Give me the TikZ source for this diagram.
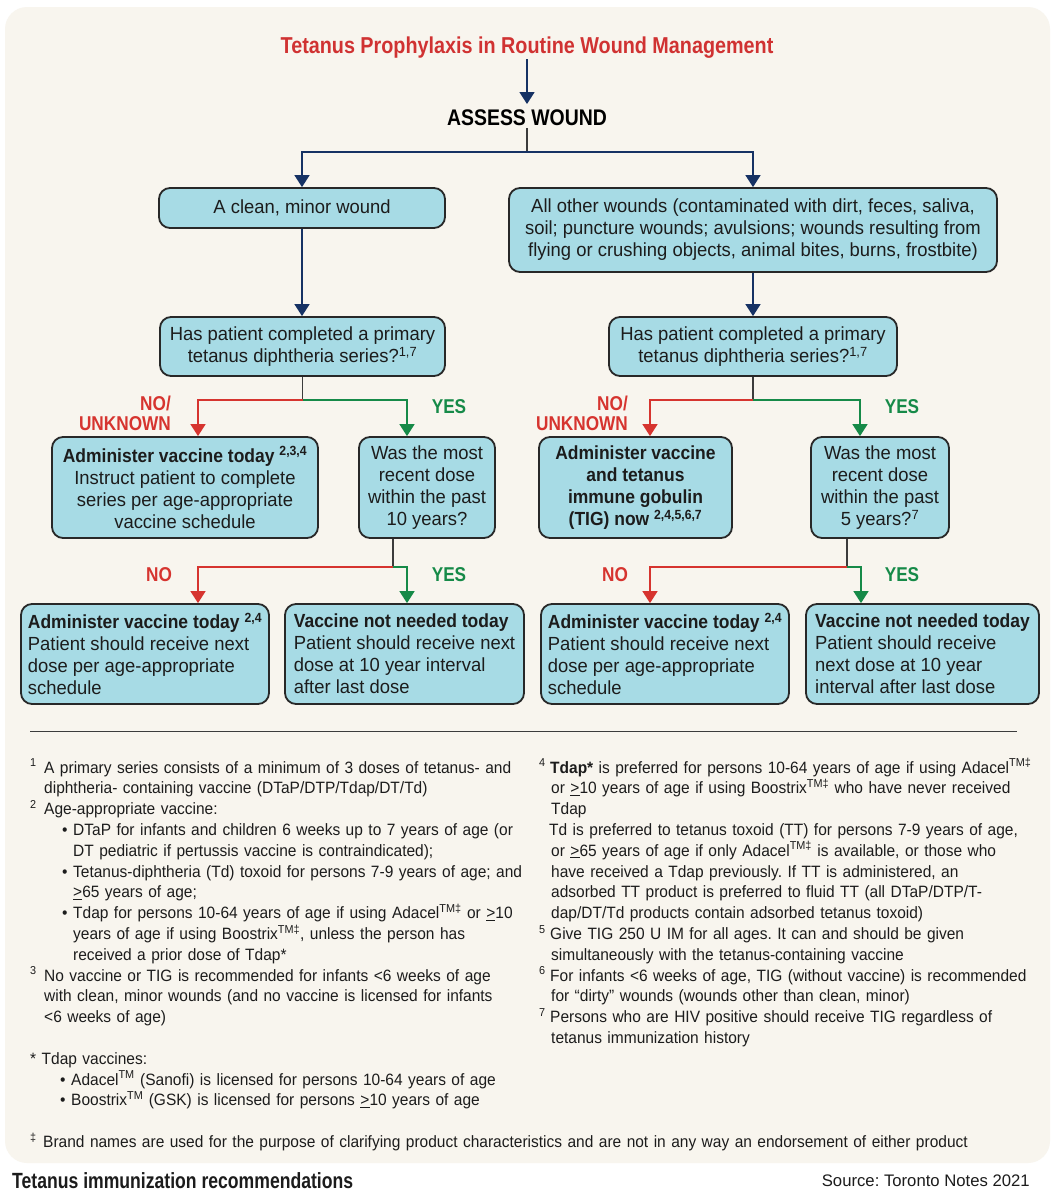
\documentclass[tikz,border=0pt]{standalone}
\usepackage{fontspec}
\setmainfont{Liberation Sans}[FakeStretch=0.97]
\newfontfamily\cbfam{Liberation Sans}[FakeStretch=0.86]
\newfontfamily\bxfam{Liberation Sans}[FakeStretch=0.92]
\newfontfamily\capfam{Liberation Sans}[FakeStretch=0.8]
\newfontfamily\fnfam{Liberation Sans}[FakeStretch=0.945]
\newfontfamily\srcfam{Liberation Sans}
\usetikzlibrary{arrows.meta}
\frenchspacing
\definecolor{cream}{RGB}{248,245,238}
\definecolor{boxfill}{RGB}{167,219,229}
\definecolor{boxline}{RGB}{40,40,40}
\definecolor{navy}{RGB}{22,50,100}
\definecolor{nored}{RGB}{214,52,47}
\definecolor{yesgreen}{RGB}{22,138,72}
\definecolor{trunkgray}{RGB}{60,60,60}
\definecolor{titlered}{RGB}{208,50,50}
\definecolor{inktext}{RGB}{28,28,28}
\begin{document}
\begin{tikzpicture}[x=1pt,y=-1pt,
  box/.style={draw=boxline, line width=1.8pt, fill=boxfill, rounded corners=11pt,
    inner sep=0pt, text=inktext, font=\fontsize{19}{22}\selectfont},
  cbox/.style={box, align=center},
  lbox/.style={box, align=left},
  conn/.style={line width=1.6pt},
  navyarr/.style={conn, draw=navy, -{Triangle[width=15pt,length=12pt]}},
  redarr/.style={conn, draw=nored, -{Triangle[width=15pt,length=12pt]}},
  greenarr/.style={conn, draw=yesgreen, -{Triangle[width=15pt,length=12pt]}},
  trunk/.style={conn, draw=trunkgray},
  lab/.style={inner sep=0pt, font=\cbfam\bfseries\fontsize{20}{20}\selectfont},
  foot/.style={inner sep=0pt, text=inktext, font=\fnfam\fontsize{16.4}{20.8}\selectfont}
]
\useasboundingbox (0,0) rectangle (1055,1200);
\fill[white] (0,0) rectangle (1055,1200);
\fill[cream, rounded corners=22pt] (5,7) rectangle (1050,1163);

% title
\node[anchor=base, text=titlered, inner sep=0pt,
  font=\cbfam\bfseries\fontsize{23}{23}\selectfont] (title) at (527,53)
  {Tetanus Prophylaxis in Routine Wound Management};
\node[anchor=base, text=black, inner sep=0pt,
  font=\cbfam\bfseries\fontsize{22.6}{23}\selectfont] (assess) at (527,125)
  {ASSESS WOUND};

% level 1
\node[cbox, minimum width=286pt, minimum height=40pt] (clean) at (302,208)
  {A clean, minor wound};
\node[cbox, minimum width=488pt, minimum height=84pt] (other) at (753,230)
  {All other wounds (contaminated with dirt, feces, saliva,\\soil; puncture wounds; avulsions; wounds resulting from\\flying or crushing objects, animal bites, burns, frostbite)};

% questions
\node[cbox, minimum width=285pt, minimum height=59pt] (q1) at (302.5,346.5)
  {Has patient completed a primary\\tetanus diphtheria series?\textsuperscript{1,7}};
\node[cbox, minimum width=288pt, minimum height=59pt] (q2) at (753,346.5)
  {Has patient completed a primary\\tetanus diphtheria series?\textsuperscript{1,7}};

% level 2
\node[cbox, minimum width=266pt, minimum height=101pt] (l1) at (185,487.5)
  {{\bxfam\bfseries Administer vaccine today \textsuperscript{2,3,4}}\\Instruct patient to complete\\series per age-appropriate\\vaccine schedule};
\node[cbox, minimum width=136pt, minimum height=101pt] (l2) at (427,487.5)
  {Was the most\\recent dose\\within the past\\10 years?};
\node[cbox, minimum width=193pt, minimum height=101pt,
  font=\bxfam\bfseries\fontsize{19}{22}\selectfont] (r1) at (635.5,487.5)
  {Administer vaccine\\and tetanus\\immune gobulin\\(TIG) now \textsuperscript{2,4,5,6,7}};
\node[cbox, minimum width=138pt, minimum height=101pt] (r2) at (880,487.5)
  {Was the most\\recent dose\\within the past\\5 years?\textsuperscript{7}};

% level 3
\node[lbox, minimum width=248pt, minimum height=100pt] (l3) at (145,654)
  {{\bxfam\bfseries Administer vaccine today \textsuperscript{2,4}}\\Patient should receive next\\dose per age-appropriate\\schedule};
\node[lbox, minimum width=239pt, minimum height=100pt] (l4) at (404.5,654)
  {{\bxfam\bfseries Vaccine not needed today}\\Patient should receive next\\dose at 10 year interval\\after last dose};
\node[lbox, minimum width=248pt, minimum height=100pt] (r3) at (665,654)
  {{\bxfam\bfseries Administer vaccine today \textsuperscript{2,4}}\\Patient should receive next\\dose per age-appropriate\\schedule};
\node[lbox, minimum width=233pt, minimum height=100pt] (r4) at (922.5,654)
  {{\bxfam\bfseries Vaccine not needed today}\\Patient should receive\\next dose at 10 year\\interval after last dose};

% connectors
\coordinate (jA) at (527,152);
\draw[navyarr] ([yshift=-1pt]title.south) -- ([yshift=5pt]assess.north);
\draw[trunk] ([yshift=-3pt]assess.south) -- (jA);
\draw[navyarr] (jA) -| (clean.north);
\draw[navyarr] (jA) -| (other.north);
\draw[navyarr] (clean.south) -- (clean.south |- q1.north);
\draw[navyarr] (other.south) -- (other.south |- q2.north);

\coordinate (j1) at (302.5,400);
\draw[trunk] (q1.south) -- (j1);
\draw[redarr] (j1) -| ([xshift=13pt]l1.north);
\draw[greenarr] (j1) -| ([xshift=-20pt]l2.north);

\coordinate (j2) at (393,567);
\draw[trunk] (l2.south -| j2) -- (j2);
\draw[redarr] (j2) -| ([xshift=53pt]l3.north);
\draw[greenarr] (j2) -| ([xshift=2.5pt]l4.north);

\coordinate (j3) at (753,400);
\draw[trunk] (q2.south) -- (j3);
\draw[redarr] (j3) -| ([xshift=14.5pt]r1.north);
\draw[greenarr] (j3) -| ([xshift=-20pt]r2.north);

\coordinate (j4) at (847,567);
\draw[trunk] (r2.south -| j4) -- (j4);
\draw[redarr] (j4) -| ([xshift=-15pt]r3.north);
\draw[greenarr] (j4) -| ([xshift=-61.5pt]r4.north);

% labels
\node[lab, text=nored, align=right, anchor=east] (nu1) at (171,413) {NO/\\UNKNOWN};
\node[lab, text=yesgreen] (y1) at (449,407) {YES};
\node[lab, text=nored] (n2) at (159,575) {NO};
\node[lab, text=yesgreen] (y2) at (449,575) {YES};
\node[lab, text=nored, align=right, anchor=east] (nu3) at (628,413) {NO/\\UNKNOWN};
\node[lab, text=yesgreen] (y3) at (902,407) {YES};
\node[lab, text=nored] (n4) at (615,575) {NO};
\node[lab, text=yesgreen] (y4) at (902,575) {YES};

% separator
\draw[line width=1pt, draw=trunkgray] (30,731) -- (1017,731);

% footnotes left
\node[foot, anchor=base west, text width=1010pt, align=left] (fnL) at (30,773) {%
\makebox[14pt][l]{\textsuperscript{1}}A primary series consists of a minimum of 3 doses of tetanus- and\\
\hspace*{14pt}diphtheria- containing vaccine (DTaP/DTP/Tdap/DT/Td)\\
\makebox[14pt][l]{\textsuperscript{2}}Age-appropriate vaccine:\\
\hspace*{32pt}\makebox[11pt][l]{•}DTaP for infants and children 6 weeks up to 7 years of age (or\\
\hspace*{43pt}DT pediatric if pertussis vaccine is contraindicated);\\
\hspace*{32pt}\makebox[11pt][l]{•}Tetanus-diphtheria (Td) toxoid for persons 7-9 years of age; and\\
\hspace*{43pt}\underline{>}65 years of age;\\
\hspace*{32pt}\makebox[11pt][l]{•}Tdap for persons 10-64 years of age if using Adacel\textsuperscript{TM‡} or \underline{>}10\\
\hspace*{43pt}years of age if using Boostrix\textsuperscript{TM‡}, unless the person has\\
\hspace*{43pt}received a prior dose of Tdap*\\
\makebox[14pt][l]{\textsuperscript{3}}No vaccine or TIG is recommended for infants <6 weeks of age\\
\hspace*{14pt}with clean, minor wounds (and no vaccine is licensed for infants\\
\hspace*{14pt}<6 weeks of age)\\[20.8pt]
* Tdap vaccines:\\
\hspace*{30pt}\makebox[11pt][l]{•}Adacel\textsuperscript{TM} (Sanofi) is licensed for persons 10-64 years of age\\
\hspace*{30pt}\makebox[11pt][l]{•}Boostrix\textsuperscript{TM} (GSK) is licensed for persons \underline{>}10 years of age\\[20.8pt]
\makebox[13pt][l]{\textsuperscript{‡}}Brand names are used for the purpose of clarifying product characteristics and are not in any way an endorsement of either product};

% footnotes right
\node[foot, anchor=base west, text width=560pt, align=left] (fnR) at (539,773) {%
\makebox[11pt][l]{\textsuperscript{4}}\textbf{Tdap*} is preferred for persons 10-64 years of age if using Adacel\textsuperscript{TM‡}\\
\hspace*{12pt}or \underline{>}10 years of age if using Boostrix\textsuperscript{TM‡} who have never received\\
\hspace*{12pt}Tdap\\
\hspace*{10pt}Td is preferred to tetanus toxoid (TT) for persons 7-9 years of age,\\
\hspace*{12pt}or \underline{>}65 years of age if only Adacel\textsuperscript{TM‡} is available, or those who\\
\hspace*{12pt}have received a Tdap previously. If TT is administered, an\\
\hspace*{12pt}adsorbed TT product is preferred to fluid TT (all DTaP/DTP/T-\\
\hspace*{12pt}dap/DT/Td products contain adsorbed tetanus toxoid)\\
\makebox[11pt][l]{\textsuperscript{5}}Give TIG 250 U IM for all ages. It can and should be given\\
\hspace*{12pt}simultaneously with the tetanus-containing vaccine\\
\makebox[11pt][l]{\textsuperscript{6}}For infants <6 weeks of age, TIG (without vaccine) is recommended\\
\hspace*{12pt}for “dirty” wounds (wounds other than clean, minor)\\
\makebox[11pt][l]{\textsuperscript{7}}Persons who are HIV positive should receive TIG regardless of\\
\hspace*{12pt}tetanus immunization history};

% footer
\node[anchor=base west, inner sep=0pt, text=inktext,
  font=\capfam\bfseries\fontsize{22}{22}\selectfont] (caption) at (12,1188)
  {Tetanus immunization recommendations};
\node[anchor=base east, inner sep=0pt, text=inktext,
  font=\srcfam\fontsize{16.7}{17}\selectfont] (source) at (1030,1186)
  {Source: Toronto Notes 2021};
\end{tikzpicture}
\end{document}
